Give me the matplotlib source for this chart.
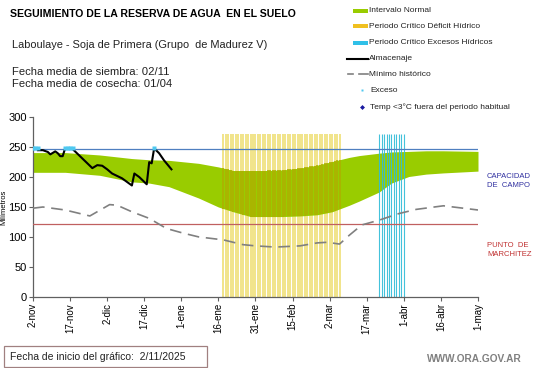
import numpy as np
import matplotlib
matplotlib.use("Agg")
import matplotlib.pyplot as plt
from matplotlib.patches import Rectangle

plt.rcParams['font.family'] = ['Liberation Sans', 'DejaVu Sans']

# ---------------- data ----------------
start = np.datetime64('2025-11-02')

# Intervalo normal (green band)
band_days = [0, 13, 27, 40, 47, 55, 67, 75, 81, 88, 94, 101, 108, 115, 121, 128, 132, 140, 145, 152, 159, 166, 180]
band_upper = [241, 241, 237, 231, 229, 228, 223, 217, 211, 211, 211, 212, 215, 220, 226, 233, 236, 240, 242, 243, 244, 244, 243]
band_lower = [208, 208, 203, 192, 190, 184, 165, 150, 142, 134, 134, 134, 135, 137, 142, 153, 160, 175, 190, 201, 205, 207, 210]

# Minimo historico
min_days = [0, 4, 13, 23, 31, 34, 40, 47, 54, 61, 67, 77, 85, 90, 98, 108, 115, 119, 124, 128, 133, 140, 148, 155, 166, 180]
min_vals = [148, 150, 145, 135, 154, 153, 142, 131, 114, 106, 100, 95, 87, 85, 83, 85, 90, 91, 88, 103, 120, 128, 139, 146, 152, 145]

# Almacenaje
alm_days = [2, 4, 6, 7, 9, 10, 11, 12, 13, 16, 20, 24, 26, 28, 30, 32, 36, 40, 41, 43, 45, 46, 47, 48, 49, 51, 53, 56]
alm_vals = [245, 245, 242, 238, 243, 240, 235, 235, 248, 247, 231, 215, 220, 219, 213, 206, 198, 186, 206, 200, 192, 188, 225, 223, 248, 240, 228, 213]

# Exceso
exc_days = [0, 1, 2, 13, 14, 15, 16, 49]
exc_vals = [248, 248, 248, 248, 248, 248, 248, 248]

# Periodos criticos (day offsets)
deficit_period = (77, 124)
exceso_period = (140, 150)
period_top = 272

capacidad_campo = 247
punto_marchitez = 121

tick_days = [0, 15, 30, 45, 60, 75, 90, 105, 120, 135, 150, 165, 180]
tick_labels = ['2-nov', '17-nov', '2-dic', '17-dic', '1-ene', '16-ene', '31-ene',
               '15-feb', '2-mar', '17-mar', '1-abr', '16-abr', '1-may']
y_ticks = [0, 50, 100, 150, 200, 250, 300]

# ---------------- figure ----------------
W, H = 541, 368
fig = plt.figure(figsize=(W / 100, H / 100), dpi=100)
ax = fig.add_axes([33 / W, 1 - 296.7 / H, (478 - 33) / W, (296.7 - 117.3) / H])

def d(days):
    return start + np.array(days, dtype='timedelta64[D]')

green = '#99CC00'
ax.fill_between(d(band_days), band_lower, band_upper, color=green, lw=0, zorder=1)

# critical periods as daily vertical lines (olive where they cross the green band)
def_days = np.arange(deficit_period[0], deficit_period[1] + 1)
ax.vlines(d(def_days), 0, period_top, color='#EEDC6A', lw=1.1, zorder=0.5)
ax.vlines(d(def_days), np.interp(def_days, band_days, band_lower),
          np.interp(def_days, band_days, band_upper), color='#AEAE00', lw=1.1, zorder=2)

exc_p_days = np.arange(exceso_period[0], exceso_period[1] + 1)
ax.vlines(d(exc_p_days), 0, period_top, color='#30BCD8', lw=0.8, alpha=0.9, zorder=2)

ax.axhline(capacidad_campo, color='#4F7FC0', lw=0.9, zorder=3)
ax.axhline(punto_marchitez, color='#C06060', lw=0.9, zorder=3)

ax.plot(d(min_days), min_vals, color='#808080', lw=1.2, dashes=(7, 4), zorder=4)
ax.plot(d(alm_days), alm_vals, color='black', lw=1.5, zorder=5)
ax.plot(d(exc_days), exc_vals, ls='none', marker='s', ms=3, color='#4FC8F0',
        mec='none', zorder=6)

ax.set_xlim(d([0])[0], d([180])[0])
ax.set_ylim(0, 300)
ax.set_yticks(y_ticks)
ax.set_yticklabels([str(v) for v in y_ticks], fontsize=8)
ax.set_xticks(d(tick_days))
ax.set_xticklabels(tick_labels, rotation=90, fontsize=7)
ax.tick_params(axis='both', direction='out', length=3, width=0.8, color='#606060', pad=1.5)
for s in ['top', 'right']:
    ax.spines[s].set_visible(False)
for s in ['left', 'bottom']:
    ax.spines[s].set_color('#606060')
    ax.spines[s].set_linewidth(0.9)
ax.set_ylabel('Milímetros', fontsize=5.5)
ax.yaxis.set_label_coords(-0.058, 0.5)

# ---------------- overlay (texts, legend) ----------------
ov = fig.add_axes([0, 0, 1, 1], facecolor='none')
ov.set_xlim(0, W)
ov.set_ylim(H, 0)
ov.axis('off')

ov.text(10, 14, 'SEGUIMIENTO DE LA RESERVA DE AGUA  EN EL SUELO', fontsize=7.6,
        fontweight='bold', va='center', ha='left')
ov.text(12, 45, 'Laboulaye - Soja de Primera (Grupo  de Madurez V)', fontsize=7.9,
        va='center', ha='left', color='#222222')
ov.text(12, 72, 'Fecha media de siembra: 02/11', fontsize=8.1, va='center', ha='left', color='#222222')
ov.text(12, 84, 'Fecha media de cosecha: 01/04', fontsize=8.1, va='center', ha='left', color='#222222')

ov.text(487, 181, 'CAPACIDAD\nDE  CAMPO', fontsize=5.5, color='#3030A0', va='center',
        ha='left', linespacing=1.3)
ov.text(487, 250, 'PUNTO  DE\nMARCHITEZ', fontsize=5.5, color='#C03030', va='center',
        ha='left', linespacing=1.3)

# legend
leg_y = [11, 26, 43, 59, 74, 90, 107]
leg_txt = ['Intervalo Normal', 'Periodo Crítico Déficit Hídrico', 'Periodo Crítico Excesos Hídricos',
           'Almacenaje', 'Mínimo histórico', 'Exceso', 'Temp <3°C fuera del periodo habitual']
for i, (yy, tt) in enumerate(zip(leg_y, leg_txt)):
    if i == 0:
        ov.add_patch(Rectangle((353, yy - 2), 15, 4, color=green, lw=0))
    elif i == 1:
        ov.add_patch(Rectangle((353, yy - 2), 15, 4, color='#F0C020', lw=0))
    elif i == 2:
        ov.add_patch(Rectangle((353, yy - 2), 15, 4, color='#30C0E8', lw=0))
    elif i == 3:
        ov.plot([347, 368], [yy, yy], color='black', lw=1.5)
    elif i == 4:
        ov.plot([348, 353], [yy, yy], color='#808080', lw=1.2)
        ov.plot([359, 368], [yy, yy], color='#808080', lw=1.2)
    elif i == 5:
        ov.plot([362], [yy], ls='none', marker='s', ms=2, color='#4FC8F0', mec='none')
    elif i == 6:
        ov.plot([362], [yy], ls='none', marker='D', ms=2.5, color='#1A1AA0', mec='none')
    ov.text(369 if i < 5 else 370, yy, tt, fontsize=6, va='center', ha='left', color='#222222')

# bottom box
ov.add_patch(Rectangle((4, 346), 203, 21, fill=False, ec='#A08080', lw=0.9))
ov.text(10, 356.5, 'Fecha de inicio del gráfico:  2/11/2025', fontsize=7.5, va='center', ha='left',
        color='#222222')
ov.text(522, 359, 'WWW.ORA.GOV.AR', fontsize=7.3, va='center', ha='right', color='#808080',
        fontweight='bold')

fig.savefig('out.png', dpi=100)
